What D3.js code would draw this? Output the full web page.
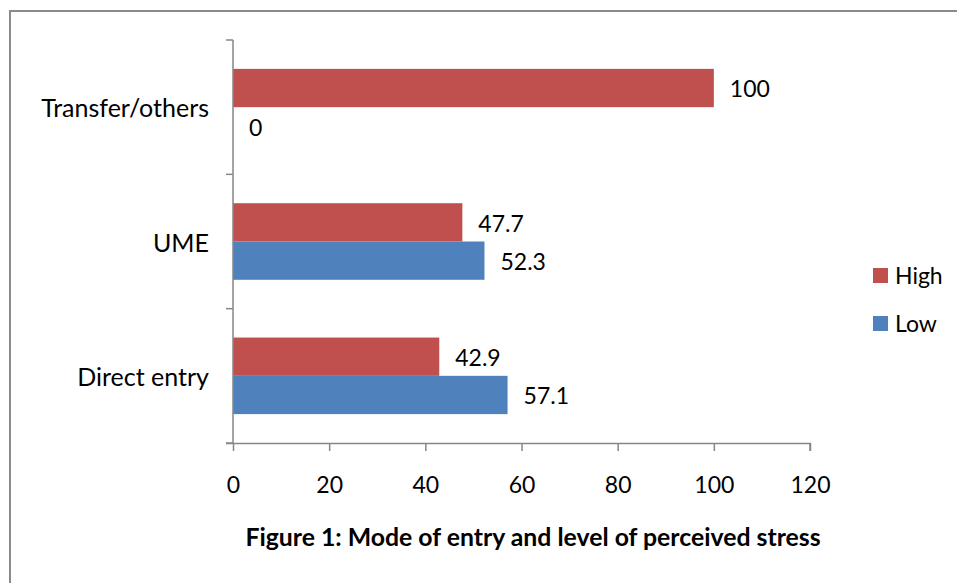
<!DOCTYPE html>
<html>
<head>
<meta charset="utf-8">
<script src="https://cdn.jsdelivr.net/npm/d3@7"></script>
<style>
  html, body { margin: 0; padding: 0; background: #fff; }
  svg { display: block; }
  text { font-family: Lato, "Open Sans", sans-serif; fill: #000; }
</style>
</head>
<body>
<svg id="chart" width="957" height="583"></svg>
<script>
// Mode of entry by level of perceived stress (%)
const categories = ["Transfer/others", "UME", "Direct entry"];
const seriesNames = ["High", "Low"];
const highValues = [100, 47.7, 42.9];
const lowValues = [0, 52.3, 57.1];
const xTicks = [0, 20, 40, 60, 80, 100, 120];
const colors = { High: "#C0504D", Low: "#4F81BD" };

const svg = d3.select("#chart");
const W = 957, H = 583;
const plot = { left: 233, right: 810, top: 40, bottom: 443 };
const numSize = 23, textSize = 25;

// outer chart frame
svg.append("rect")
  .attr("x", 10).attr("y", 11)
  .attr("width", W + 20).attr("height", H + 20)
  .attr("fill", "none").attr("stroke", "#8a8a8a").attr("stroke-width", 2);

const x = d3.scaleLinear().domain([0, 120]).range([plot.left, plot.right]);
const y = d3.scaleBand().domain(categories).range([plot.top, plot.bottom])
  .paddingInner(0.43).paddingOuter(0.215);
const ySub = d3.scaleBand().domain(seriesNames).range([0, y.bandwidth()]);

const rows = categories.map((c, i) => ({
  cat: c,
  vals: [{ s: "High", v: highValues[i] }, { s: "Low", v: lowValues[i] }]
}));

// bars
const g = svg.append("g");
const groups = g.selectAll("g.row").data(rows).join("g")
  .attr("transform", d => `translate(0,${y(d.cat)})`);

groups.selectAll("rect").data(d => d.vals).join("rect")
  .attr("x", x(0))
  .attr("y", d => ySub(d.s))
  .attr("width", d => x(d.v) - x(0))
  .attr("height", ySub.bandwidth())
  .attr("fill", d => colors[d.s]);

// value labels
groups.selectAll("text.val").data(d => d.vals).join("text")
  .attr("class", "val")
  .attr("x", d => x(d.v) + 16)
  .attr("y", d => ySub(d.s) + ySub.bandwidth() / 2 + 1)
  .attr("dy", "0.36em")
  .attr("font-size", numSize)
  .text(d => d.v);

// x axis
const xAxis = svg.append("g")
  .attr("transform", `translate(0,${plot.bottom})`)
  .call(d3.axisBottom(x).tickValues(xTicks).tickSize(8).tickSizeOuter(8).tickPadding(26));
xAxis.select(".domain").attr("stroke", "#868686").attr("stroke-width", 1.5)
  .attr("d", `M${plot.left - 7},0.5H${plot.right}V8`);
xAxis.selectAll(".tick line").attr("stroke", "#868686").attr("stroke-width", 1.5);
xAxis.selectAll(".tick text").attr("font-size", numSize).attr("font-family", "Lato, sans-serif")
  .attr("fill", "#000");

// y axis: boundaries between categories
const yBounds = d3.range(categories.length + 1).map(i =>
  plot.top + i * (plot.bottom - plot.top) / categories.length);
const yAxis = svg.append("g");
yAxis.append("line")
  .attr("x1", plot.left).attr("x2", plot.left)
  .attr("y1", plot.top).attr("y2", plot.bottom)
  .attr("stroke", "#868686").attr("stroke-width", 1.5);
yAxis.selectAll("line.tk").data(yBounds).join("line")
  .attr("class", "tk")
  .attr("x1", plot.left - 7).attr("x2", plot.left)
  .attr("y1", d => d).attr("y2", d => d)
  .attr("stroke", "#868686").attr("stroke-width", 1.5);

// category labels
svg.selectAll("text.cat").data(categories).join("text")
  .attr("class", "cat")
  .attr("x", 209)
  .attr("y", d => y(d) + y.bandwidth() / 2 + 1)
  .attr("dy", "0.36em")
  .attr("text-anchor", "end")
  .attr("font-size", textSize)
  .text(d => d);

// legend
const legend = svg.append("g");
const legendY = [276, 324];
seriesNames.forEach((s, i) => {
  legend.append("rect")
    .attr("x", 873).attr("y", legendY[i] - 8)
    .attr("width", 15).attr("height", 15)
    .attr("fill", colors[s]);
  legend.append("text")
    .attr("x", 895).attr("y", legendY[i])
    .attr("dy", "0.36em")
    .attr("font-size", 23)
    .text(s);
});

// title
svg.append("text")
  .attr("x", 533).attr("y", 546)
  .attr("text-anchor", "middle")
  .attr("font-size", 24.8)
  .attr("font-weight", "bold")
  .text("Figure 1: Mode of entry and level of perceived stress");
</script>
</body>
</html>
